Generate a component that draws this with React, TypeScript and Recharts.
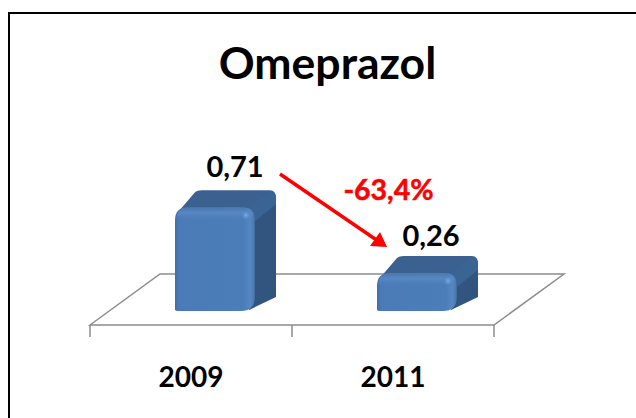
import React from "react";
import { BarChart, Bar, XAxis, YAxis, LabelList, ReferenceLine } from "recharts";

const title = "Omeprazol";
const categories = ["2009", "2011"];
const values = [0.71, 0.26];
const valueLabels = ["0,71", "0,26"];
const changeLabel = "-63,4%";

const rows = categories.map((year, i) => ({ year, value: values[i], label: valueLabels[i] }));

const FONT = "Lato, Carlito, 'Open Sans', sans-serif";
const SHIFT_X = 24;
const SHIFT_Y = -14;
const DEPTH_X = 21;
const DEPTH_Y = -17;
const LABEL_SHIFT = [{ dx: 44, dy: -30 }, { dx: 38, dy: -27 }];

function Box(props: any) {
  const { x, y, width, height, index } = props;
  const l = x + SHIFT_X;
  const r = l + width;
  const t = y + SHIFT_Y;
  const b = t + height;
  const c = 13;
  const front = `M${l},${b - 1} L${l},${t + c} Q${l},${t} ${l + c},${t} L${r - c},${t} Q${r},${t} ${r},${t + c} L${r},${b - 13} Q${r - 1},${b} ${r - 14},${b} L${l + 2},${b} Z`;
  const top = `M${l + 2},${t + 6} L${l + DEPTH_X - 1},${t + DEPTH_Y + 2} Q${l + DEPTH_X + 1},${t + DEPTH_Y} ${l + DEPTH_X + 6},${t + DEPTH_Y} L${r + DEPTH_X - 6},${t + DEPTH_Y} Q${r + DEPTH_X},${t + DEPTH_Y} ${r + DEPTH_X},${t + DEPTH_Y + 8} L${r},${t + 12} L${r - 8},${t + 2} Z`;
  const side = `M${r - 4},${t + 4} L${r + DEPTH_X},${t + DEPTH_Y + 12} L${r + DEPTH_X},${b + DEPTH_Y + 3} L${r - 6},${b - 1} Z`;
  const bevel = `M${r - 8},${t + 1} L${r + DEPTH_X - 6},${t + DEPTH_Y + 1} Q${r + DEPTH_X},${t + DEPTH_Y + 1} ${r + DEPTH_X},${t + DEPTH_Y + 9} L${r + DEPTH_X},${t + DEPTH_Y + 14} L${r},${t + 14} Q${r},${t + 4} ${r - 8},${t + 1} Z`;
  return (
    <g>
      <defs>
        <linearGradient id={`frontFill${index}`} x1="0" y1="0" x2="1" y2="0">
          <stop offset="0" stopColor="#3f6fa8" />
          <stop offset="0.05" stopColor="#4a7bb6" />
          <stop offset="0.86" stopColor="#4b7db9" />
          <stop offset="0.94" stopColor="#5687c2" />
          <stop offset="0.98" stopColor="#4d7cb3" />
          <stop offset="1" stopColor="#3d6797" />
        </linearGradient>
        <linearGradient id={`topGlow${index}`} x1="0" y1="0" x2="0" y2="1">
          <stop offset="0" stopColor="#4a79ae" stopOpacity={0.9} />
          <stop offset="0.35" stopColor="#5a8cc8" stopOpacity={0.75} />
          <stop offset="1" stopColor="#4b7db9" stopOpacity={0} />
        </linearGradient>
        <radialGradient id={`spark${index}`}>
          <stop offset="0" stopColor="#79aee6" />
          <stop offset="1" stopColor="#5687c2" stopOpacity={0} />
        </radialGradient>
      </defs>
      <path d={top} fill="#3a618f" />
      <path d={side} fill="#31557f" />
      <path d={bevel} fill="#3a6494" />
      <path d={front} fill={`url(#frontFill${index})`} />
      <path d={`M${l + 1},${t + 14} Q${l + 1},${t + 1} ${l + 14},${t + 1} L${r - 14},${t + 1} Q${r - 1},${t + 1} ${r - 1},${t + 14} Z`} fill={`url(#topGlow${index})`} />
      <circle cx={r - 9} cy={t + 8} r={5} fill={`url(#spark${index})`} />
    </g>
  );
}

function Floor(props: any) {
  const { x1, x2, y1 } = props;
  const back = { dx: 70, dy: -51 };
  const mid = (x1 + x2) / 2;
  return (
    <g fill="none" stroke="#8c8c8c" strokeWidth={1.5}>
      <path d={`M${x1},${y1} L${x1 + back.dx},${y1 + back.dy} L${x2 + back.dx},${y1 + back.dy} L${x2},${y1} Z`} />
      {[x1, mid, x2].map((tx) => (
        <line key={tx} x1={tx} x2={tx} y1={y1} y2={y1 + 12} />
      ))}
    </g>
  );
}

function ChangeArrow(props: any) {
  const { x1, y1 } = props;
  const sx = x1 + 190;
  const sy = y1 - 151;
  const ex = x1 + 297;
  const ey = y1 - 78;
  return (
    <g>
      <line x1={sx} y1={sy} x2={ex - 9} y2={ey - 6} stroke="#ff0000" strokeWidth={3.5} />
      <path d={`M${ex},${ey} L${ex - 17},${ey - 1} L${ex - 7},${ey - 15} Z`} fill="#ff0000" />
      <text x={x1 + 298.5} y={y1 - 125} textAnchor="middle" fontFamily={FONT} fontWeight={700} fontSize={28.5} fill="#ff0000" stroke="#ff0000" strokeWidth={0.5}>
        {changeLabel}
      </text>
    </g>
  );
}

function ValueLabel(props: any) {
  const { x, y, index, value } = props;
  const shift = LABEL_SHIFT[index];
  return (
    <text x={x + shift.dx + 40} y={y + SHIFT_Y + shift.dy} textAnchor="middle" fontFamily={FONT} fontWeight={700} fontSize={29} fill="#000">
      {value}
    </text>
  );
}

export default function App() {
  return (
    <div style={{ position: "absolute", left: 0, top: 0, width: 636, height: 418, overflow: "hidden", background: "#fff" }}>
      <div style={{ position: "absolute", left: 8, top: 12, width: 700, height: 500, border: "2px solid #000", boxSizing: "border-box" }} />
      <div style={{ position: "absolute", left: 0, top: 37, width: 655, textAlign: "center", fontFamily: FONT, fontWeight: 700, fontSize: 44.5, lineHeight: "50px", color: "#000" }}>
        {title}
      </div>
      <BarChart
        width={636}
        height={418}
        data={rows}
        margin={{ top: 179, right: 142, bottom: 0, left: 90 }}
        style={{ position: "absolute", left: 0, top: 0 }}
      >
        <YAxis hide domain={[0, 1]} />
        <XAxis
          dataKey="year"
          axisLine={false}
          tickLine={false}
          height={93}
          tickMargin={36}
          tick={{ fontFamily: FONT, fontWeight: 700, fontSize: 28, fill: "#000" }}
        />
        <ReferenceLine y={0} ifOverflow="visible" shape={<Floor />} zIndex={-100} />
        <Bar dataKey="value" barSize={80} isAnimationActive={false} shape={<Box />}>
          <LabelList dataKey="label" content={<ValueLabel />} />
        </Bar>
        <ReferenceLine y={0} ifOverflow="visible" shape={<ChangeArrow />} />
      </BarChart>
    </div>
  );
}
